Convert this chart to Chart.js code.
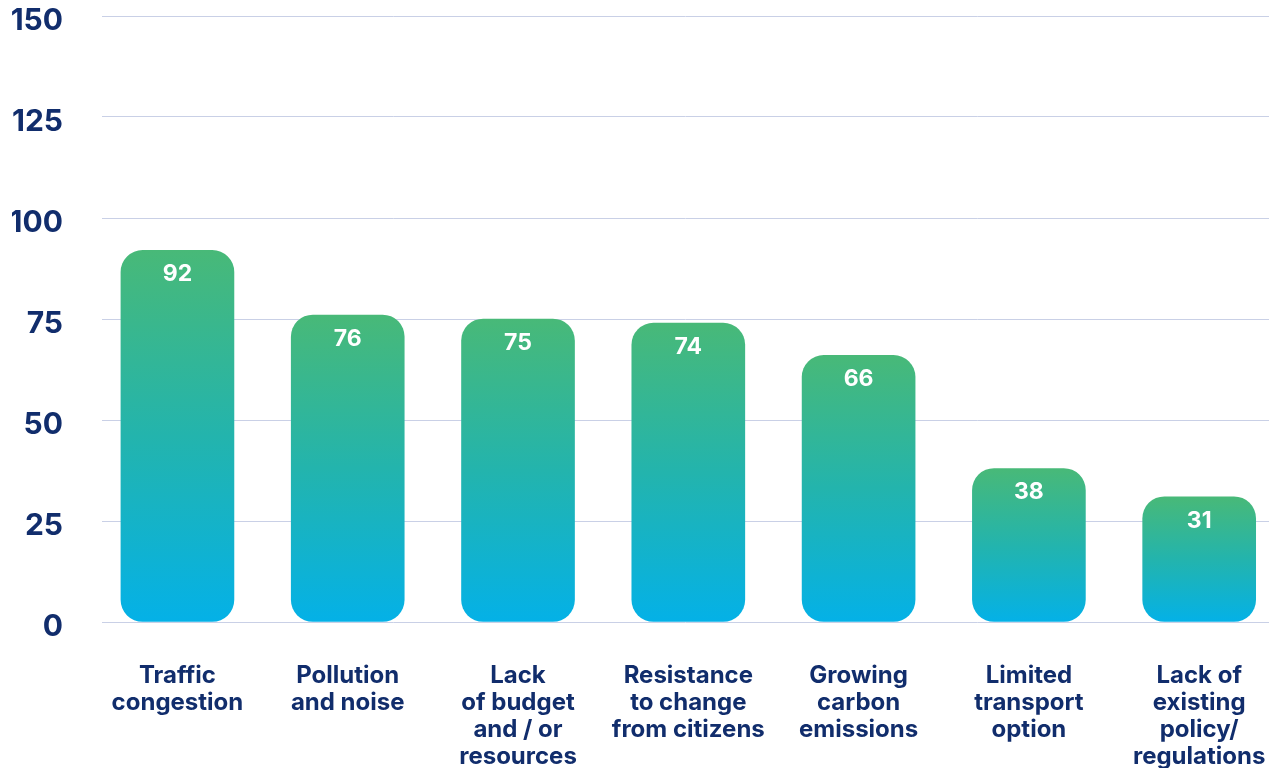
<!DOCTYPE html>
<html>
<head>
<meta charset="utf-8">
<script src="https://cdn.jsdelivr.net/npm/chart.js@4/dist/chart.umd.min.js"></script>
<style>
  html, body { margin: 0; padding: 0; background: #fff; overflow: hidden; }
  #wrap { width: 1269px; height: 768px; position: relative; }
</style>
</head>
<body>
<div id="wrap"><canvas id="chartBarreiras"></canvas></div>
<script>
// dados
const categories = [
  ['Traffic', 'congestion'],
  ['Pollution', 'and noise'],
  ['Lack', 'of budget', 'and / or', 'resources'],
  ['Resistance', 'to change', 'from citizens'],
  ['Growing', 'carbon', 'emissions'],
  ['Limited', 'transport', 'option'],
  ['Lack of', 'existing', 'policy/', 'regulations'],
];
const values   = [92, 76, 75, 74, 66, 38, 31];
const yTicks   = [0, 25, 50, 75, 100, 125, 150];

const navy     = '#112d6c';
const gridCol  = '#c9d0e6';
const fontFam  = 'Inter, "Open Sans", sans-serif';

// gradiente verde -> azul, por barra
function barGradient(ctx) {
  const chart = ctx.chart;
  const area  = chart.chartArea;
  if (!area || ctx.raw == null) return '#24b4ad';
  const y = chart.scales.y;
  const top = y.getPixelForValue(ctx.raw.y);
  const bot = y.getPixelForValue(0);
  const g = chart.ctx.createLinearGradient(0, top, 0, bot);
  g.addColorStop(0, '#48b978');
  g.addColorStop(0.5, '#23b4ad');
  g.addColorStop(1, '#04b1e7');
  return g;
}

// sem folgas extras calculadas pelos rótulos
function noPad(s) {
  s.paddingTop = 0; s.paddingBottom = 0;
  s.paddingLeft = 0; s.paddingRight = 0;
}

// rótulos de valor dentro das barras
const valueLabels = {
  id: 'valueLabels',
  afterDatasetsDraw(chart) {
    const { ctx } = chart;
    const meta = chart.getDatasetMeta(0);
    ctx.save();
    ctx.fillStyle = '#ffffff';
    ctx.font = `700 23px ${fontFam}`;
    ctx.textAlign = 'center';
    ctx.textBaseline = 'middle';
    meta.data.forEach((bar, i) => {
      ctx.fillText(String(values[i]), bar.x, bar.y + 24);
    });
    ctx.restore();
  },
};

new Chart(document.getElementById('chartBarreiras'), {
  type: 'bar',
  data: {
    datasets: [{
      data: values.map((v, i) => ({ x: i, y: v })),
      backgroundColor: barGradient,
      borderRadius: 22,
      borderSkipped: false,
      barThickness: 113,
    }],
  },
  options: {
    responsive: true,
    maintainAspectRatio: false,
    animation: false,
    layout: { padding: { top: 16, left: 12, right: 0, bottom: 0 } },
    plugins: { legend: { display: false }, tooltip: { enabled: false } },
    scales: {
      x: {
        type: 'linear',
        bounds: 'data',
        offset: false,
        min: -0.443,
        max: 6.41,
        afterBuildTicks: s => {
          s.min = -0.443; s.max = 6.41;
          s.ticks = categories.map((_, i) => ({ value: i }));
        },
        afterFit: s => { s.height = 146; noPad(s); },
        ticks: {
          callback: v => categories[v],
          color: navy,
          font: { size: 24, weight: '700', family: fontFam, lineHeight: '27px' },
          padding: 40,
          maxRotation: 0,
          autoSkip: false,
        },
        grid: { display: false, drawTicks: false },
        border: { display: false },
      },
      y: {
        min: 0,
        max: 150,
        afterBuildTicks: s => { s.ticks = yTicks.map(v => ({ value: v })); },
        afterFit: s => { s.width = 90; noPad(s); },
        ticks: {
          color: navy,
          font: { size: 30, weight: '700', family: fontFam },
          padding: 39,
          labelOffset: 5,
        },
        grid: { color: gridCol, lineWidth: 1, drawTicks: false },
        border: { display: false },
      },
    },
  },
  plugins: [valueLabels],
});
</script>
</body>
</html>
